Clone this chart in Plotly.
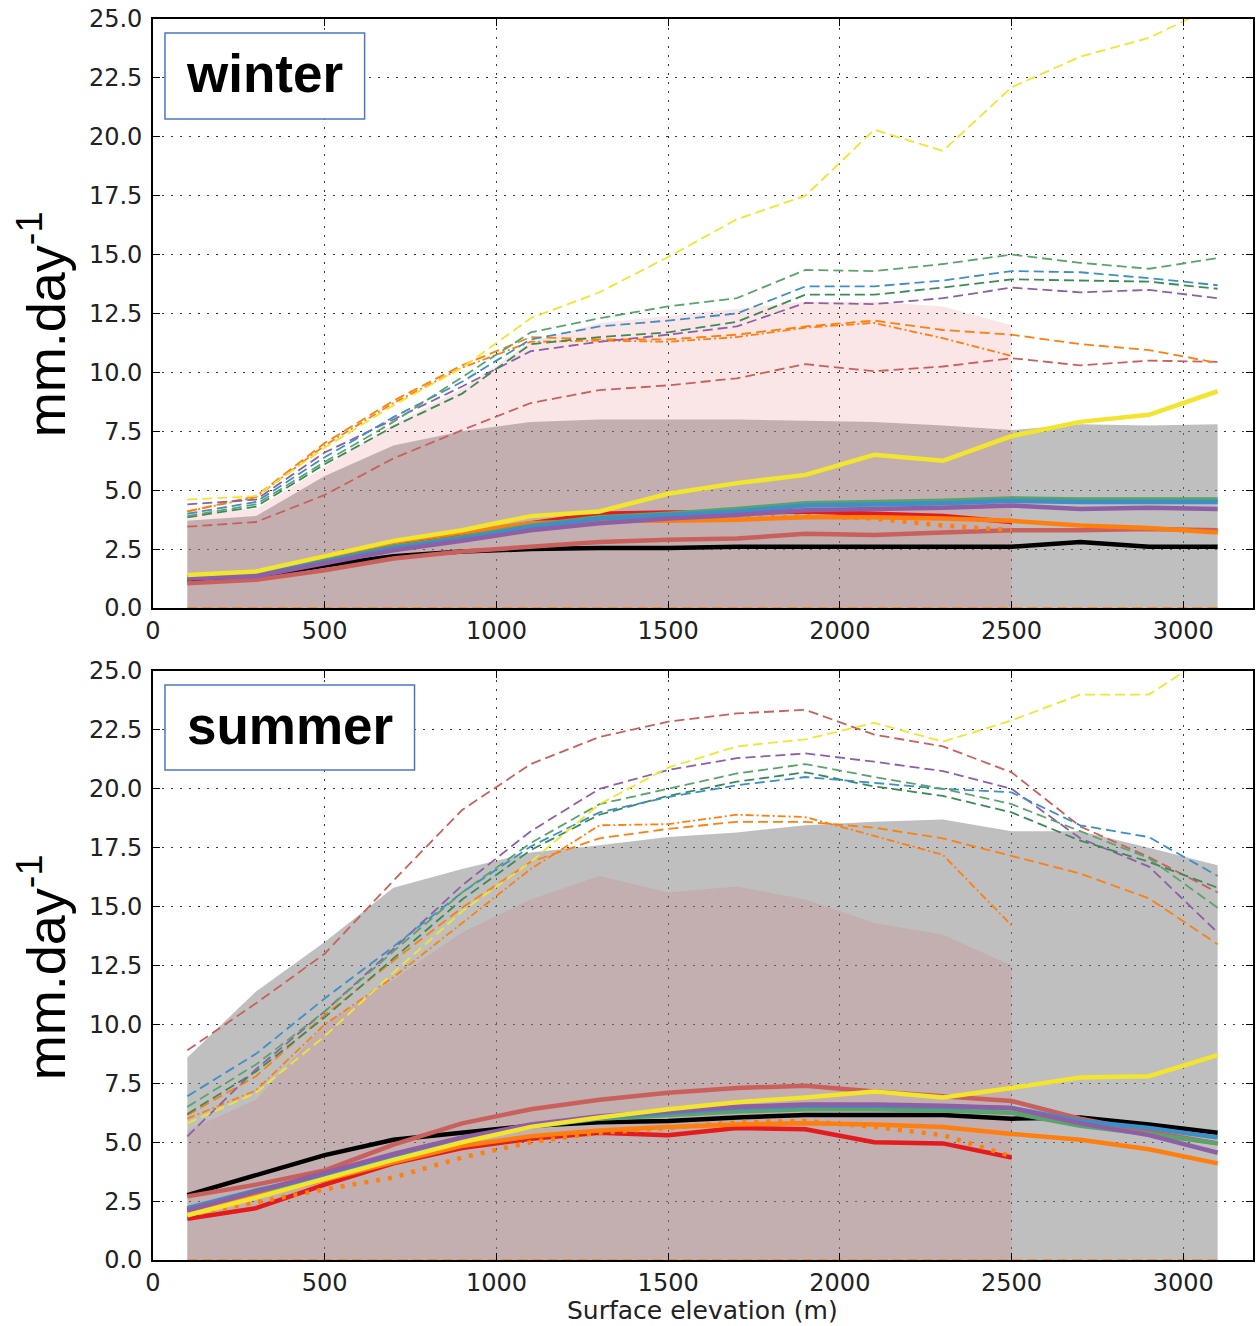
import plotly.graph_objects as go

# Elevation bins (m) and the subset covered by the shorter runs
ELEV = [100, 300, 500, 700, 900, 1100, 1300, 1500, 1700, 1900, 2100, 2300, 2500, 2700, 2900, 3100]
ELEV_SHORT = ELEV[:13]

# ---------------- winter ----------------
w_gray_top = [3.7, 3.9, 5.6, 6.9, 7.5, 7.9, 8.0, 8.0, 8.0, 7.95, 7.9, 7.75, 7.55, 7.8, 7.75, 7.8]
w_pink_top = [4.15, 4.2, 6.0, 7.8, 9.3, 11.3, 12.1, 12.4, 12.7, 13.0, 13.0, 12.8, 12.0]

w_black = [1.2, 1.3, 1.8, 2.2, 2.4, 2.5, 2.55, 2.55, 2.6, 2.6, 2.6, 2.6, 2.6, 2.8, 2.6, 2.6]
w_indianred = [1.05, 1.2, 1.6, 2.1, 2.4, 2.6, 2.8, 2.9, 2.95, 3.15, 3.1, 3.2, 3.3, 3.3, 3.35, 3.3]
w_red = [1.3, 1.4, 2.0, 2.6, 3.1, 3.6, 4.0, 4.05, 4.05, 4.1, 4.0, 3.9, 3.65]
w_orange = [1.3, 1.5, 2.2, 2.8, 3.2, 3.6, 3.7, 3.7, 3.75, 3.85, 3.85, 3.8, 3.7, 3.5, 3.4, 3.2]
w_orange_dot = [1.25, 1.45, 2.1, 2.6, 3.0, 3.5, 3.65, 3.75, 3.8, 3.9, 3.8, 3.5, 3.3]
w_green = [1.3, 1.4, 2.0, 2.6, 3.0, 3.5, 3.85, 4.0, 4.2, 4.45, 4.5, 4.55, 4.65, 4.6, 4.6, 4.6]
w_blue = [1.3, 1.4, 1.95, 2.55, 2.95, 3.45, 3.8, 3.95, 4.1, 4.35, 4.4, 4.45, 4.55, 4.5, 4.5, 4.5]
w_purple = [1.25, 1.35, 1.9, 2.45, 2.85, 3.3, 3.6, 3.8, 3.95, 4.15, 4.2, 4.25, 4.35, 4.2, 4.25, 4.2]
w_yellow = [1.4, 1.55, 2.2, 2.85, 3.3, 3.9, 4.1, 4.85, 5.3, 5.65, 6.5, 6.25, 7.3, 7.9, 8.2, 9.2]

w_yellow_hi = [4.6, 4.75, 6.8, 8.6, 10.2, 12.3, 13.4, 14.9, 16.5, 17.5, 20.3, 19.4, 22.1, 23.4, 24.2, 25.6]
w_green_hi = [3.9, 4.4, 6.2, 7.9, 9.8, 11.7, 12.3, 12.8, 13.15, 14.35, 14.3, 14.6, 15.0, 14.65, 14.4, 14.85]
w_blue_hi = [4.0, 4.5, 6.4, 8.1, 9.6, 11.4, 11.95, 12.2, 12.5, 13.65, 13.65, 13.9, 14.3, 14.25, 14.0, 13.7]
w_green2_hi = [3.85, 4.3, 6.1, 7.7, 9.1, 11.2, 11.5, 11.7, 12.15, 13.3, 13.3, 13.6, 13.95, 13.9, 13.85, 13.55]
w_purple_hi = [4.4, 4.6, 6.6, 8.0, 9.4, 10.9, 11.3, 11.6, 11.95, 12.95, 12.9, 13.15, 13.6, 13.4, 13.5, 13.15]
w_orange_hi = [4.1, 4.75, 7.0, 8.8, 10.3, 11.5, 11.4, 11.4, 11.6, 11.95, 12.2, 11.8, 11.6, 11.2, 10.95, 10.4]
w_orange2_hi = [4.1, 4.7, 6.9, 8.7, 10.2, 11.3, 11.35, 11.3, 11.5, 11.9, 12.1, 11.45, 10.7]
w_indianred_hi = [3.45, 3.65, 4.8, 6.35, 7.55, 8.7, 9.25, 9.45, 9.75, 10.35, 10.05, 10.25, 10.6, 10.3, 10.5, 10.45]
w_low = [0.0] * 16

# ---------------- summer ----------------
s_gray_top = [8.6, 11.4, 13.5, 15.8, 16.6, 17.3, 17.6, 17.95, 18.15, 18.45, 18.6, 18.7, 18.2, 18.2, 17.5, 16.75]
s_pink_top = [5.5, 6.8, 10.0, 11.9, 13.9, 15.3, 16.3, 15.6, 15.85, 15.3, 14.3, 13.8, 12.5]

s_black = [2.75, 3.6, 4.45, 5.1, 5.4, 5.7, 5.85, 5.9, 6.05, 6.15, 6.15, 6.15, 6.0, 6.05, 5.75, 5.4]
s_indianred = [2.7, 3.2, 3.8, 4.9, 5.8, 6.4, 6.8, 7.1, 7.3, 7.4, 7.15, 6.95, 6.75, 6.0, 5.45, 4.95]
s_red = [1.75, 2.2, 3.2, 4.1, 4.75, 5.15, 5.4, 5.3, 5.6, 5.55, 5.0, 4.95, 4.35]
s_orange = [2.0, 2.7, 3.4, 4.15, 4.85, 5.25, 5.5, 5.65, 5.75, 5.8, 5.75, 5.65, 5.35, 5.1, 4.7, 4.1]
s_orange_dot = [1.9, 2.45, 3.0, 3.5, 4.35, 5.0, 5.4, 5.6, 5.85, 5.9, 5.65, 5.3, 4.4]
s_green = [2.15, 2.9, 3.55, 4.35, 5.1, 5.65, 6.0, 6.15, 6.3, 6.4, 6.4, 6.35, 6.25, 5.7, 5.35, 4.95]
s_blue = [2.2, 2.95, 3.6, 4.4, 5.15, 5.7, 6.05, 6.25, 6.45, 6.55, 6.55, 6.5, 6.45, 5.9, 5.6, 5.2]
s_purple = [2.1, 2.9, 3.7, 4.5, 5.2, 5.75, 6.1, 6.3, 6.5, 6.6, 6.6, 6.55, 6.45, 5.8, 5.3, 4.55]
s_yellow = [1.9, 2.65, 3.45, 4.25, 5.0, 5.65, 6.05, 6.4, 6.7, 6.9, 7.15, 6.9, 7.3, 7.75, 7.8, 8.7]

s_indianred_hi = [8.9, 10.9, 13.0, 16.1, 19.1, 21.05, 22.2, 22.85, 23.2, 23.35, 22.3, 21.8, 20.7, 18.4, 17.1, 15.6]
s_yellow_hi = [5.8, 7.1, 9.5, 12.2, 14.8, 16.9, 19.35, 20.9, 21.8, 22.1, 22.8, 22.0, 22.9, 24.0, 24.0, 25.9]
s_purple_hi = [5.25, 8.1, 10.55, 13.2, 15.9, 18.2, 20.0, 20.8, 21.3, 21.5, 21.15, 20.75, 20.0, 17.9, 16.7, 13.9]
s_green_hi = [6.5, 8.3, 10.55, 13.1, 15.6, 17.7, 19.35, 20.0, 20.65, 21.05, 20.5, 20.0, 19.35, 18.2, 17.05, 14.95]
s_green2_hi = [6.2, 8.0, 10.3, 12.8, 15.3, 17.4, 18.9, 19.7, 20.3, 20.7, 20.1, 19.7, 19.0, 17.8, 16.9, 15.8]
s_blue_hi = [6.95, 8.75, 11.1, 13.3, 15.6, 17.55, 19.0, 19.65, 20.15, 20.5, 20.25, 20.0, 19.85, 18.45, 17.95, 16.3]
s_orange_hi = [6.15, 7.8, 10.4, 12.7, 14.95, 16.9, 17.9, 18.3, 18.6, 18.6, 18.35, 17.9, 17.15, 16.4, 15.35, 13.4]
s_orange2_hi = [6.0, 7.2, 10.0, 12.0, 14.3, 16.6, 18.45, 18.5, 18.9, 18.8, 18.0, 17.2, 14.2]
s_low = [0.0] * 16

Y_TICKS = [0, 2.5, 5, 7.5, 10, 12.5, 15, 17.5, 20, 22.5, 25]
X_TICKS = [0, 500, 1000, 1500, 2000, 2500, 3000]
PANEL_LABELS = ["winter", "summer"]
Y_LABEL = "mm.day<sup>-1</sup>"
X_LABEL = "Surface elevation (m)"

BLACK = "#000000"
INDIANRED = "#c9605b"
RED = "#e41a1c"
ORANGE = "#ff7f0e"
YELLOW = "#f2e52e"
GREEN = "#5aa46c"
GREEN2 = "#3c8a58"
BLUE = "#3d8fc6"
PURPLE = "#8e5fa5"

W, H = 1257, 1326
ML, MR, MT, MB = 153, 2, 19, 66
PW, PH = W - ML - MR, H - MT - MB


def px_x(p):
    return (p - ML) / PW


def px_y(p):
    return (H - MB - p) / PH


fig = go.Figure()


def add_panel(xa, ya, d):
    def line(x, y, color, width, dash="solid"):
        fig.add_trace(go.Scatter(x=x, y=y, mode="lines", xaxis=xa, yaxis=ya,
                                 line=dict(color=color, width=width, dash=dash),
                                 showlegend=False, hoverinfo="skip"))

    # spread envelopes
    fig.add_trace(go.Scatter(x=ELEV, y=d["gray"], mode="lines", fill="tozeroy",
                             fillcolor="rgba(128,128,128,0.5)", line=dict(width=0),
                             xaxis=xa, yaxis=ya, showlegend=False, hoverinfo="skip"))
    fig.add_trace(go.Scatter(x=ELEV_SHORT, y=d["pink"], mode="lines", fill="tozeroy",
                             fillcolor="rgba(220,80,80,0.14)", line=dict(width=0),
                             xaxis=xa, yaxis=ya, showlegend=False, hoverinfo="skip"))

    dash = "10px,5px"
    dashdot = "8px,3px,2px,3px"
    line(ELEV, d["low"], ORANGE, 1.6, dash)
    line(ELEV, d["indianred_hi"], INDIANRED, 1.8, dash)
    line(ELEV, d["orange_hi"], ORANGE, 1.8, dash)
    line(ELEV_SHORT, d["orange2_hi"], ORANGE, 1.8, dashdot)
    line(ELEV, d["purple_hi"], PURPLE, 1.8, dash)
    line(ELEV, d["green2_hi"], GREEN2, 1.8, dash)
    line(ELEV, d["blue_hi"], BLUE, 1.8, dash)
    line(ELEV, d["green_hi"], GREEN, 1.8, dash)
    line(ELEV, d["yellow_hi"], YELLOW, 1.8, dash)

    line(ELEV, d["black"], BLACK, 4.5)
    line(ELEV, d["indianred"], INDIANRED, 4.5)
    line(ELEV_SHORT, d["red"], RED, 4.5)
    line(ELEV, d["orange"], ORANGE, 4.5)
    line(ELEV_SHORT, d["orange_dot"], ORANGE, 4.5, "4px,8px")
    line(ELEV, d["green"], GREEN, 4.5)
    line(ELEV, d["blue"], BLUE, 4.5)
    line(ELEV, d["purple"], PURPLE, 4.5)
    line(ELEV, d["yellow"], YELLOW, 4.5)


add_panel("x", "y", dict(
    gray=w_gray_top, pink=w_pink_top, low=w_low,
    black=w_black, indianred=w_indianred, red=w_red, orange=w_orange,
    orange_dot=w_orange_dot, green=w_green, blue=w_blue, purple=w_purple, yellow=w_yellow,
    yellow_hi=w_yellow_hi, green_hi=w_green_hi, blue_hi=w_blue_hi, green2_hi=w_green2_hi,
    purple_hi=w_purple_hi, orange_hi=w_orange_hi, orange2_hi=w_orange2_hi,
    indianred_hi=w_indianred_hi))
add_panel("x2", "y2", dict(
    gray=s_gray_top, pink=s_pink_top, low=s_low,
    black=s_black, indianred=s_indianred, red=s_red, orange=s_orange,
    orange_dot=s_orange_dot, green=s_green, blue=s_blue, purple=s_purple, yellow=s_yellow,
    yellow_hi=s_yellow_hi, green_hi=s_green_hi, blue_hi=s_blue_hi, green2_hi=s_green2_hi,
    purple_hi=s_purple_hi, orange_hi=s_orange_hi, orange2_hi=s_orange2_hi,
    indianred_hi=s_indianred_hi))

tick_font = dict(family="DejaVu Sans", size=24, color="#222222")
grid = dict(showgrid=True, gridcolor="#3a3a3a", griddash="2px,7px", gridwidth=1.3)
common_x = dict(range=[0, 3203], tickvals=X_TICKS, ticks="inside", ticklen=7, tickwidth=1.2,
                tickcolor="black", showline=True, linecolor="black", linewidth=1.6,
                mirror="ticks", zeroline=False, tickfont=tick_font, ticklabelstandoff=0, **grid)
common_y = dict(range=[0, 25], tickvals=Y_TICKS, tickformat=".1f", ticks="inside", ticklen=7,
                tickwidth=1.2, tickcolor="black", showline=True, linecolor="black",
                linewidth=1.6, mirror="ticks", zeroline=False, tickfont=tick_font,
                ticklabelstandoff=4, **grid)

top_lo = px_y(608)
bot_hi = px_y(671)

fig.update_layout(
    width=W, height=H,
    margin=dict(l=ML, r=MR, t=MT, b=MB),
    paper_bgcolor="white", plot_bgcolor="white",
    showlegend=False,
    xaxis=dict(domain=[0, 1], anchor="y", **common_x),
    yaxis=dict(domain=[top_lo, 1], anchor="x", **common_y),
    xaxis2=dict(domain=[0, 1], anchor="y2", **common_x),
    yaxis2=dict(domain=[0, bot_hi], anchor="x2", **common_y),
)

# Season boxes
boxes = [(165, 365, 33, 119), (165, 415, 685, 770)]
for (x0, x1, y0, y1), label in zip(boxes, PANEL_LABELS):
    fig.add_shape(type="rect", xref="paper", yref="paper",
                  x0=px_x(x0), x1=px_x(x1), y0=px_y(y1), y1=px_y(y0),
                  line=dict(color="#4a78c2", width=1.5), fillcolor="white", layer="above")
    fig.add_annotation(xref="paper", yref="paper", x=px_x((x0 + x1) / 2), y=px_y((y0 + y1) / 2 - 2),
                       text="<b>%s</b>" % label, showarrow=False, xanchor="center", yanchor="middle",
                       font=dict(family="Liberation Sans, Arial", size=53, color="black"))

# Axis titles
for yc in (324, 967):
    fig.add_annotation(xref="paper", yref="paper", x=px_x(42), y=px_y(yc), text=Y_LABEL,
                       textangle=-90, showarrow=False, xanchor="center", yanchor="middle",
                       font=dict(family="Liberation Sans, Arial", size=54, color="black"))

fig.add_annotation(xref="paper", yref="paper", x=px_x(703), y=px_y(1310), text=X_LABEL,
                   showarrow=False, xanchor="center", yanchor="middle",
                   font=dict(family="DejaVu Sans", size=25, color="#222222"))

fig.write_html("out.html")
